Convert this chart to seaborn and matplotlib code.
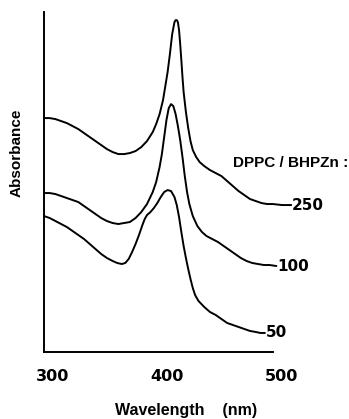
import numpy as np
import pandas as pd
import seaborn as sns
from matplotlib import pyplot as plt
from matplotlib.transforms import ScaledTranslation

sns.set_style("white")
plt.rcParams['font.family'] = ['Liberation Sans', 'DejaVu Sans']
plt.rcParams['text.color'] = 'black'
plt.rcParams['axes.labelcolor'] = 'black'
plt.rcParams['xtick.color'] = 'black'

# spectra (arbitrary absorbance units, curves offset)
wl_250 = [300, 305, 310, 315, 320, 325, 330, 335, 340, 345, 350, 355, 360, 365, 370, 375, 380, 385, 390, 395,
          398, 401, 404, 406, 408, 410, 412, 414, 415, 416, 417, 418, 419, 420, 421, 422, 424, 426, 428, 430,
          433, 436, 440, 445, 450, 455, 460, 465, 470, 475, 480, 485, 490, 495, 500, 508, 516]
ab_250 = [234, 234, 233, 231, 229, 226, 223, 219, 215, 211, 207, 203, 200, 198, 198, 199, 201, 205, 211, 220,
          228, 238, 252, 266, 280, 298, 318, 330, 332, 332, 330, 322, 308, 292, 275, 260, 240, 224, 211, 202,
          195, 190, 186, 182, 179, 176, 171, 166, 161, 157, 153, 151, 149, 148, 148, 147, 147]

wl_100 = [300, 305, 310, 315, 320, 325, 330, 335, 340, 345, 350, 355, 360, 365, 370, 375, 380, 385, 390, 395,
          398, 401, 403, 405, 407, 409, 411, 413, 415, 417, 419, 421, 423, 425, 427, 430, 434, 438, 442, 447,
          452, 457, 462, 467, 472, 477, 482, 487, 492, 497, 503]
ab_100 = [159, 159, 158, 156, 154, 152, 150, 146, 142, 138, 134, 131, 129, 128, 129, 130, 134, 140, 148, 160,
          170, 185, 198, 215, 232, 244, 248, 246, 238, 226, 212, 195, 176, 160, 148, 136, 126, 120, 116, 113,
          110, 106, 102, 98, 94, 91, 89, 88, 87, 87, 86]

wl_50 = [300, 305, 310, 315, 320, 325, 330, 335, 340, 345, 350, 355, 360, 364, 368, 371, 374, 377, 380, 383,
         386, 388, 390, 393, 396, 399, 402, 405, 408, 411, 414, 416, 418, 420, 422, 424, 426, 428, 430, 432,
         435, 440, 445, 450, 455, 460, 465, 470, 475, 480, 485, 489, 493]
ab_50 = [136, 134, 131, 128, 125, 121, 117, 113, 108, 103, 98, 94, 91, 89, 88, 89, 93, 100, 108, 117,
         127, 133, 137, 140, 144, 149, 155, 160, 162, 161, 155, 147, 135, 120, 106, 94, 83, 73, 64, 57,
         51, 45, 40, 37, 33, 29, 27, 25, 23, 21, 20, 19, 19]

ratios = ['250', '100', '50']

df = pd.concat([
    pd.DataFrame({'Wavelength': wl_250, 'Absorbance': ab_250, 'ratio': ratios[0]}),
    pd.DataFrame({'Wavelength': wl_100, 'Absorbance': ab_100, 'ratio': ratios[1]}),
    pd.DataFrame({'Wavelength': wl_50, 'Absorbance': ab_50, 'ratio': ratios[2]}),
])

fig = plt.figure(figsize=(3.49, 4.19), dpi=100)
ax = fig.add_axes([0.126, 0.16, 0.656, 0.811])

sns.lineplot(data=df, x='Wavelength', y='Absorbance', units='ratio', estimator=None,
             sort=False, color='black', lw=1.4, ax=ax, clip_on=False, legend=False)

ax.set_xlim(300, 500)
ax.set_ylim(0, 340)
ax.set_xticks([300, 400, 500])
ax.set_xticklabels(['300', '400', '500'], fontsize=11.5, fontweight='bold', family='DejaVu Sans')
ax.set_yticks([])
ax.tick_params(axis='x', direction='in', length=3, width=1, pad=12, colors='black')
# the printed labels sit a little right of their ticks
shift = ScaledTranslation(6 / 72, 0, fig.dpi_scale_trans)
for lbl in ax.get_xticklabels():
    lbl.set_transform(lbl.get_transform() + shift)
sns.despine(ax=ax)
for s in ['left', 'bottom']:
    ax.spines[s].set_color('black')
    ax.spines[s].set_linewidth(1.4)

ax.set_xlabel('')
ax.set_ylabel('')
fig.text(0.533, 0.02, 'Wavelength    (nm)', fontsize=11.5, fontweight='bold',
         ha='center', va='center', color='black')
fig.text(0.049, 0.635, 'Absorbance', rotation=90, fontsize=11, fontweight='bold',
         ha='center', va='center', color='black')

# curve labels at the right ends
for lab, wl, ab in zip(ratios, [wl_250, wl_100, wl_50], [ab_250, ab_100, ab_50]):
    ax.text(wl[-1] + 0.5, ab[-1], lab, fontsize=11, fontweight='bold', family='DejaVu Sans',
            ha='left', va='center', clip_on=False, color='black')
fig.text(0.668, 0.61, 'DPPC / BHPZn :', fontsize=11, fontweight='bold',
         ha='left', va='center', color='black')

fig.savefig('out.png', dpi=100)
